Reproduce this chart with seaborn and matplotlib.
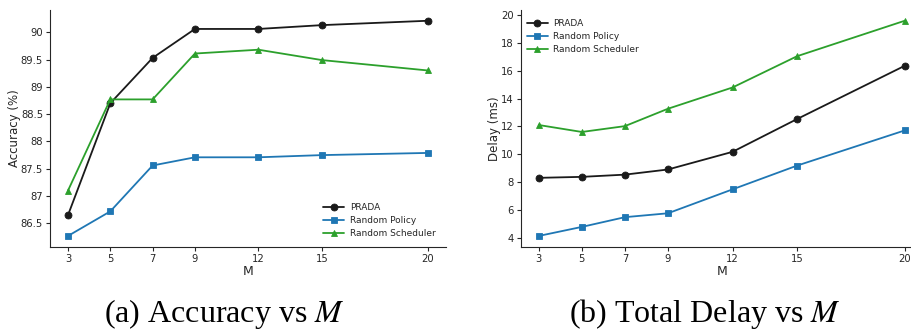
import matplotlib
matplotlib.use("Agg")
import matplotlib.pyplot as plt
import numpy as np
import pandas as pd
import seaborn as sns

# valores
M = [3, 5, 7, 9, 12, 15, 20]
series = ["PRADA", "Random Policy", "Random Scheduler"]

acc_prada = [86.65, 88.70, 89.53, 90.06, 90.06, 90.13, 90.21]
acc_policy = [86.27, 86.72, 87.56, 87.71, 87.71, 87.75, 87.79]
acc_sched = [87.10, 88.77, 88.77, 89.61, 89.68, 89.49, 89.30]

delay_prada = [8.30, 8.37, 8.53, 8.90, 10.17, 12.53, 16.36]
delay_policy = [4.12, 4.77, 5.47, 5.75, 7.47, 9.18, 11.71]
delay_sched = [12.10, 11.60, 12.02, 13.27, 14.80, 17.05, 19.60]

colores = {"PRADA": "#1a1a1a", "Random Policy": "#1f77b4", "Random Scheduler": "#2ca02c"}
marcadores = {"PRADA": "o", "Random Policy": "s", "Random Scheduler": "^"}

sns.set_style("ticks")
plt.rcParams["font.family"] = ["DejaVu Sans"]
plt.rcParams["mathtext.fontset"] = "stix"

W, H = 911, 331
fig = plt.figure(figsize=(W / 100, H / 100), dpi=100)

ax1 = fig.add_axes([50 / W, (H - 246.7) / H, 395.7 / W, 236.7 / H])
ax2 = fig.add_axes([520.5 / W, (H - 246.7) / H, 402.5 / W, 236.7 / H])

def dibujar(ax, valores, ylabel, loc, anchor):
    for nombre, vals in zip(series, valores):
        sns.lineplot(x=M, y=vals, ax=ax, color=colores[nombre], marker=marcadores[nombre],
                     markersize=5, markeredgecolor=colores[nombre], markeredgewidth=0.6,
                     linewidth=1.3, label=nombre)
    ax.set_xticks(M)
    ax.set_xlabel("M", fontsize=9, labelpad=1)
    ax.set_ylabel(ylabel, fontsize=8.5, labelpad=0)
    ax.tick_params(labelsize=7.2, length=3, width=0.8, pad=2)
    ax.yaxis.set_major_formatter(matplotlib.ticker.FormatStrFormatter("%g"))
    ax.legend(loc=loc, bbox_to_anchor=anchor, frameon=False, fontsize=6.5,
              handlelength=2.3, handletextpad=0.6, labelspacing=0.45, borderaxespad=0.3)
    sns.despine(ax=ax)
    for s in ax.spines.values():
        s.set_linewidth(0.8)

dibujar(ax1, [acc_prada, acc_policy, acc_sched], "Accuracy (%)", "lower right", (0.99, 0.01))
dibujar(ax2, [delay_prada, delay_policy, delay_sched], "Delay (ms)", "upper left", (0.0, 0.99))
ax1.set_yticks(np.arange(86.5, 90.01, 0.5))
ax2.set_yticks(np.arange(4, 20.1, 2))

fig.text(224 / W, (H - 322) / H, "(a) Accuracy vs $M$", ha="center", va="baseline",
         fontsize=23, family="Liberation Serif", color="black")
fig.text(705 / W, (H - 322) / H, "(b) Total Delay vs $M$", ha="center", va="baseline",
         fontsize=23, family="Liberation Serif", color="black")

fig.savefig("out.png", dpi=100)
